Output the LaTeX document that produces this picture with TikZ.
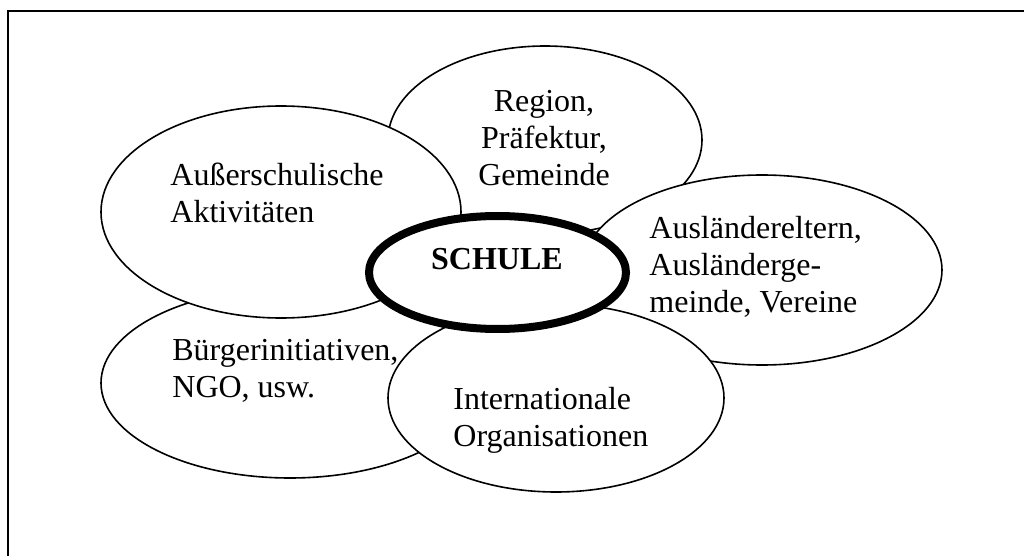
\documentclass[tikz,border=0pt]{standalone}
\usepackage{fontspec}
\setmainfont{Liberation Serif}
\usepackage{tikz}
\usetikzlibrary{positioning,shapes.geometric}

\begin{document}
\begin{tikzpicture}[
    x=0.5pt, y=-0.5pt,
    bubble/.style={draw, ellipse, fill=white, line width=0.8pt,
                   inner sep=0pt, outer sep=0pt},
    lbl/.style={font=\fontsize{16}{18.5}\selectfont, inner sep=0pt,
                align=left, anchor=base west},
]
\useasboundingbox (0,0) rectangle (1024,556);
\clip (0,0) rectangle (1024,556);
\draw[line width=1pt] (7.5,11.5) rectangle (1040,580);

% outer bubbles, back to front
\node[bubble, minimum width=157pt, minimum height=94pt]  (region)  at (545,140) {};
\node[bubble, minimum width=189pt, minimum height=95pt]  (buerger) at (290,383) {};
\node[bubble, minimum width=180pt, minimum height=95pt]  (ausl)    at (762,270) {};
\node[bubble, minimum width=180pt, minimum height=106pt] (ausser)  at (281,212) {};
\node[bubble, minimum width=168pt, minimum height=94pt]  (intl)    at (556,398) {};

% centre
\node[bubble, line width=4pt, minimum width=128.5pt, minimum height=56.5pt]
    (schule) at (497.5,272.5) {};

% labels (anchored at the baseline of their last line)
\node[lbl, align=center, anchor=base] (regiontxt) at (544,186)
    {Region,\\Präfektur,\\Gemeinde};
\node[lbl] (aussertxt)  at (170,222) {Außerschulische\\Aktivitäten};
\node[lbl] (ausltxt)    at (649,313) {Ausländereltern,\\Ausländerge-\\meinde, Vereine};
\node[lbl] (buergertxt) at (172,397) {Bürgerinitiativen,\\NGO, usw.};
\node[lbl] (intltxt)    at (453,446) {Internationale\\Organisationen};
\node[lbl, anchor=base, font=\fontsize{16}{18.5}\selectfont\bfseries]
    (schuletxt) at (497,270) {SCHULE};
\end{tikzpicture}
\end{document}
